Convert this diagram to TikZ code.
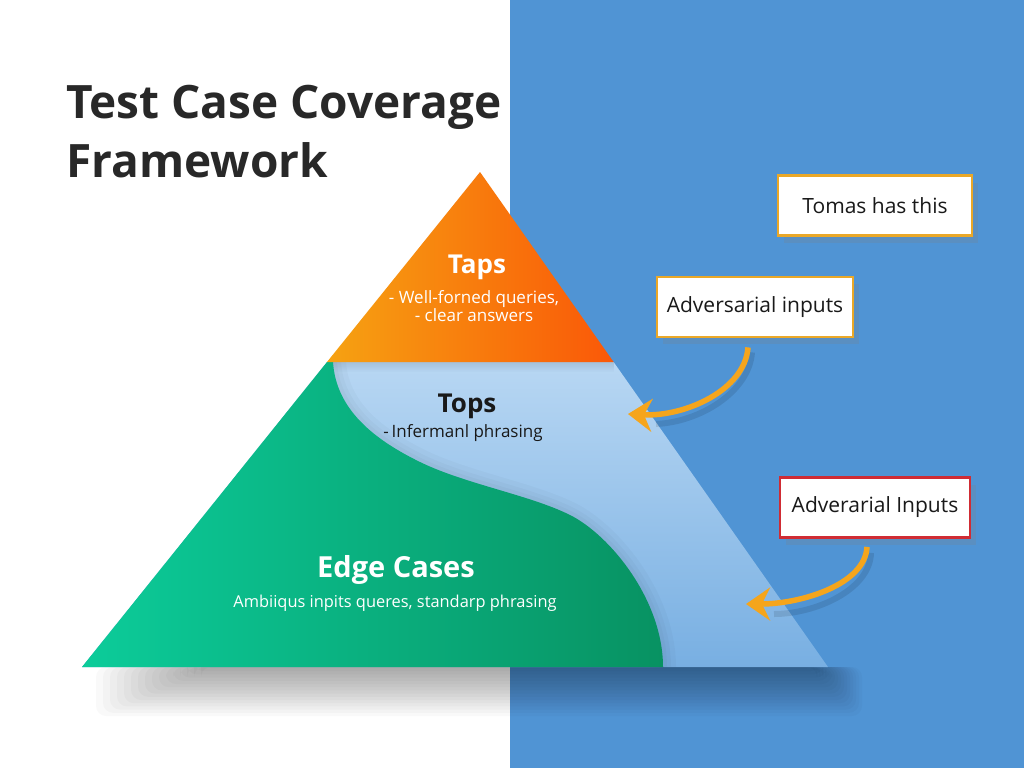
\documentclass[tikz,border=0pt]{standalone}
\usepackage{fontspec}
\setmainfont{Open Sans}
\usetikzlibrary{shadows,fadings,arrows.meta,calc}
\definecolor{bgblue}{RGB}{80,148,212}
\definecolor{titlegray}{RGB}{40,40,40}
\definecolor{orL}{RGB}{246,162,18}
\definecolor{orR}{RGB}{250,88,8}
\definecolor{grL}{RGB}{12,204,154}
\definecolor{grR}{RGB}{8,146,98}
\definecolor{lbT}{RGB}{184,215,243}
\definecolor{lbB}{RGB}{120,175,226}
\definecolor{gold}{RGB}{234,168,40}
\definecolor{boxred}{RGB}{208,44,52}
\definecolor{arrowor}{RGB}{245,165,28}
\definecolor{textdark}{RGB}{25,25,25}
\tikzset{
  calloutbox/.style={draw=gold, line width=2.8pt, fill=white, inner sep=0pt,
    minimum height=60pt, text=textdark, font=\fontsize{21}{24}\selectfont,
    drop shadow={shadow xshift=6pt, shadow yshift=-7pt, opacity=0.22}},
  callarrow/.style={draw=arrowor, line width=5.5pt,
    -{Stealth[length=24pt,width=33pt,inset=8pt]}},
  arrowshadow/.style={draw=black, opacity=0.10, line width=6pt},
  headtext/.style={font=\fontsize{26}{30}\selectfont\bfseries, anchor=base},
  subtext/.style={font=\fontsize{17}{20}\selectfont, anchor=base},
}
\begin{document}
\begin{tikzpicture}[x=1pt,y=-1pt]
\useasboundingbox (0,0) rectangle (1024,768);
\fill[white] (0,0) rectangle (1024,768);
\fill[bgblue] (510,0) rectangle (1024,768);
% soft shadow below pyramid (stacked translucent layers)
\foreach \i in {0,...,15}{
  \fill[black, opacity=0.025, rounded corners=10pt]
    (96+\i*7,667) rectangle (862-\i*3,716-\i*3.2);
}
% pyramid body (light blue)
\coordinate (apex) at (480,172);
\coordinate (bl) at (82,667);
\coordinate (br) at (828,667);
\coordinate (ml) at (327,362);
\coordinate (mr) at (613.6,362);
\shade[top color=lbT, bottom color=lbB] (ml) -- (mr) -- (br) -- (bl) -- cycle;
% shadow cast on light blue
\begin{scope}
  \clip (ml) -- (mr) -- (br) -- (bl) -- cycle;
  \fill[black, opacity=0.10, path fading=south] (327,362) rectangle (614,372);
  \foreach \w in {8,16,26}{
  \draw[black, opacity=0.025, line width=\w pt]
    (333,362) .. controls (336,410) and (375,440) .. (420,462)
    .. controls (465,484) and (530,495) .. (570,515)
    .. controls (610,535) and (663,600) .. (663,667);
  }
\end{scope}
% green region
\shade[left color=grL, right color=grR]
  (ml) -- (333,362) .. controls (336,410) and (375,440) .. (420,462)
  .. controls (465,484) and (530,495) .. (570,515)
  .. controls (610,535) and (663,600) .. (663,667) -- (bl) -- cycle;
% orange top
\shade[left color=orL, right color=orR] (apex) -- (mr) -- (ml) -- cycle;
% title
\node[anchor=base west, text=titlegray, inner sep=0pt,
  font=\fontsize{46}{50}\selectfont\bfseries] (title1) at (66,118) {Test Case Coverage};
\node[anchor=base west, text=titlegray, inner sep=0pt,
  font=\fontsize{46}{50}\selectfont\bfseries] (title2) at (66,177) {Framework};
% layer labels
\node[headtext, text=white] (taps) at (477,273) {Taps};
\node[subtext, text=white] (taps1) at (474,303) {- Well-forned queries,};
\node[subtext, text=white] (taps2) at (474,321) {- clear answers};
\node[headtext, text=textdark] (tops) at (467,412) {Tops};
\node[subtext, text=textdark] (tops1) at (463,437) {-\,Infermanl phrasing};
\node[headtext, text=white, font=\fontsize{29}{32}\selectfont\bfseries] (edge) at (396,577) {Edge Cases};
\node[subtext, text=white, font=\fontsize{16.4}{20}\selectfont] (edge1) at (395,607) {Ambiiqus inpits queres, standarp phrasing};
% callout boxes
\node[calloutbox, minimum width=194pt] (tomas) at (875,205.5) {Tomas has this};
\node[calloutbox, minimum width=196pt] (adv1) at (755,307) {Adversarial inputs};
\node[calloutbox, draw=boxred, minimum width=190pt] (adv2) at (875,507.5) {Adverarial Inputs};
% arrows
\coordinate (tip1) at (628,414);
\coordinate (tip2) at (746,604);
\draw[arrowshadow] ($(adv1.south)+(-3,14)$) .. controls (749,392) and (700,422) .. ($(tip1)+(28,10)$);
\draw[arrowshadow] ($(adv2.south)+(-4,14)$) .. controls (870,590) and (815,614) .. ($(tip2)+(28,10)$);
\draw[callarrow] ($(adv1.south)+(-7,9)$) .. controls (745,390) and (685,417) .. (tip1);
\draw[callarrow] ($(adv2.south)+(-8,8)$) .. controls (865,585) and (800,604) .. (tip2);
\end{tikzpicture}
\end{document}
